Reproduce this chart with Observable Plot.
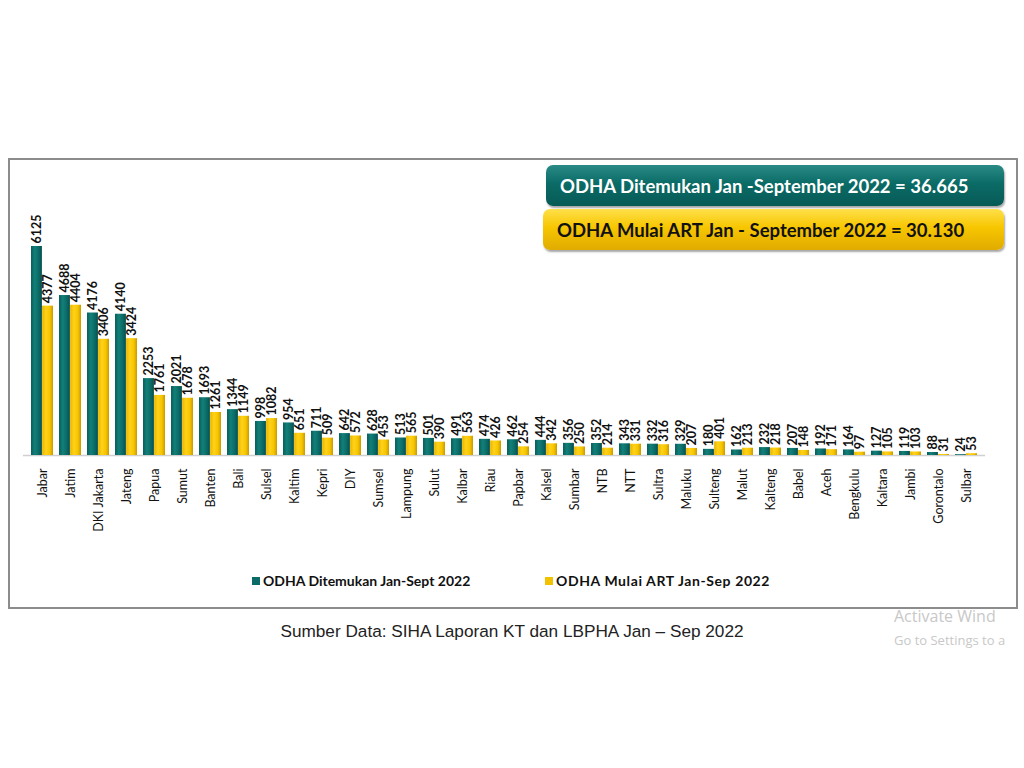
<!DOCTYPE html>
<html>
<head>
<meta charset="utf-8">
<script src="https://cdn.jsdelivr.net/npm/d3@7"></script>
<script src="https://cdn.jsdelivr.net/npm/@observablehq/plot@0.6"></script>
<style>
  html, body { margin: 0; padding: 0; background: #fff; }
  #page { position: relative; width: 1024px; height: 768px; overflow: hidden; background: #fff; font-family: Lato, "Open Sans", sans-serif; }
  #frame { position: absolute; left: 8px; top: 158px; width: 1006px; height: 447px; border: 2px solid #8c8c8c; box-sizing: content-box; }
  #chart { position: absolute; left: 10px; top: 160px; }
  .hdr { position: absolute; border-radius: 7px; font-weight: bold; font-size: 18.5px; display: flex; align-items: center; box-sizing: border-box; padding-left: 14px; white-space: nowrap; }
  #h1 { left: 546px; top: 165px; width: 458px; height: 41px; color: #fff; background: linear-gradient(#2a8a86, #0b6b66 45%, #075a56); box-shadow: 1px 2px 2px rgba(0,0,0,0.35); }
  #h2 { left: 543px; top: 209px; width: 461px; height: 41px; color: #111; background: linear-gradient(#ffe04a, #f7c600 45%, #e0ab00); box-shadow: 1px 2px 2px rgba(0,0,0,0.35); }
  #legend { position: absolute; top: 572px; left: 0; width: 1024px; font-size: 14px; font-weight: bold; color: #111; }
  .li { position: absolute; display: flex; align-items: center; gap: 3px; white-space: nowrap; }
  .sw { width: 8px; height: 8px; display: inline-block; }
  #caption { position: absolute; top: 621px; left: 0; width: 1024px; text-align: center; font-family: "Liberation Sans", Arial, sans-serif; font-size: 17.2px; color: #222; }
  .wm { position: absolute; color: #c8c8c8; font-family: "Open Sans", sans-serif; white-space: nowrap; }
</style>
</head>
<body>
<div id="page">
  <div id="frame"></div>
  <div id="chart"></div>
  <div class="hdr" id="h1">ODHA Ditemukan Jan -September 2022 = 36.665</div>
  <div class="hdr" id="h2">ODHA Mulai ART Jan - September 2022 = 30.130</div>
  <div id="legend">
    <div class="li" style="left:252px"><span class="sw" style="background:#0b6b66"></span><span>ODHA Ditemukan Jan-Sept 2022</span></div>
    <div class="li" style="left:545px"><span class="sw" style="background:#f2c100"></span><span style="letter-spacing:0.6px">ODHA Mulai ART Jan-Sep 2022</span></div>
  </div>
  <div id="caption">Sumber Data: SIHA Laporan KT dan LBPHA Jan – Sep 2022</div>
  <div class="wm" style="left:894px; top:605px; font-size:16px;">Activate Wind</div>
  <div class="wm" style="left:894px; top:631px; font-size:13px;">Go to Settings to a</div>
</div>
<script>
const categories = ["Jabar","Jatim","DKI Jakarta","Jateng","Papua","Sumut","Banten","Bali","Sulsel","Kaltim","Kepri","DIY","Sumsel","Lampung","Sulut","Kalbar","Riau","Papbar","Kalsel","Sumbar","NTB","NTT","Sultra","Maluku","Sulteng","Malut","Kalteng","Babel","Aceh","Bengkulu","Kaltara","Jambi","Gorontalo","Sulbar"];
const ditemukan = [6125,4688,4176,4140,2253,2021,1693,1344,998,954,711,642,628,513,501,491,474,462,444,356,352,343,332,329,180,162,232,207,192,164,127,119,88,24];
const mulaiArt = [4377,4404,3406,3424,1761,1678,1261,1149,1082,651,509,572,453,565,390,563,426,254,342,250,214,331,316,207,401,213,218,148,171,97,105,103,31,53];

const rows = categories.map((c, i) => ({cat: c, d: ditemukan[i], a: mulaiArt[i]}));

const W = 1000, H = 400;
const half = 11.1;

const chart = Plot.plot({
  width: W,
  height: H,
  marginLeft: 13,
  marginRight: 25,
  marginTop: 86,
  marginBottom: 105,
  style: {fontFamily: "Lato, 'Open Sans', sans-serif", background: "transparent", overflow: "visible"},
  x: {domain: categories, padding: 0.21, label: null, tickRotate: -90, tickSize: 0, tickPadding: 13},
  y: {domain: [0, 6125], axis: null},
  marks: [
    Plot.ruleY([0], {stroke: "#d0d0d0", strokeWidth: 1.5}),
    Plot.barY(rows, {x: "cat", y: "d", fill: "url(#gTeal)", insetRight: half}),
    Plot.barY(rows, {x: "cat", y: "a", fill: "url(#gYel)", insetLeft: half}),
    Plot.text(rows, {x: "cat", y: "d", text: d => String(d.d), rotate: -90, textAnchor: "start", lineAnchor: "middle", dx: -half/2, dy: -3, fontSize: 12.5, fontWeight: "bold", fill: "#111"}),
    Plot.text(rows, {x: "cat", y: "a", text: d => String(d.a), rotate: -90, textAnchor: "start", lineAnchor: "middle", dx: half/2, dy: -3, fontSize: 12.5, fontWeight: "bold", fill: "#111"})
  ]
});

const defs = d3.select(chart).insert("defs", ":first-child");
function grad(id, stops) {
  const g = defs.append("linearGradient").attr("id", id).attr("x1", "0").attr("x2", "1").attr("y1", "0").attr("y2", "0");
  stops.forEach(([o, c]) => g.append("stop").attr("offset", o).attr("stop-color", c));
}
grad("gTeal", [["0", "#0a5e5a"], ["0.35", "#12807a"], ["0.7", "#0b6b66"], ["1", "#064e4b"]]);
grad("gYel", [["0", "#e8b400"], ["0.35", "#ffd21a"], ["0.7", "#f7c600"], ["1", "#c99a00"]]);

d3.select(chart).selectAll("g[aria-label='x-axis tick label'] text, g[aria-label='x-axis'] text").attr("font-size", 12.5).attr("fill", "#111");
document.getElementById("chart").appendChild(chart);
</script>
</body>
</html>
